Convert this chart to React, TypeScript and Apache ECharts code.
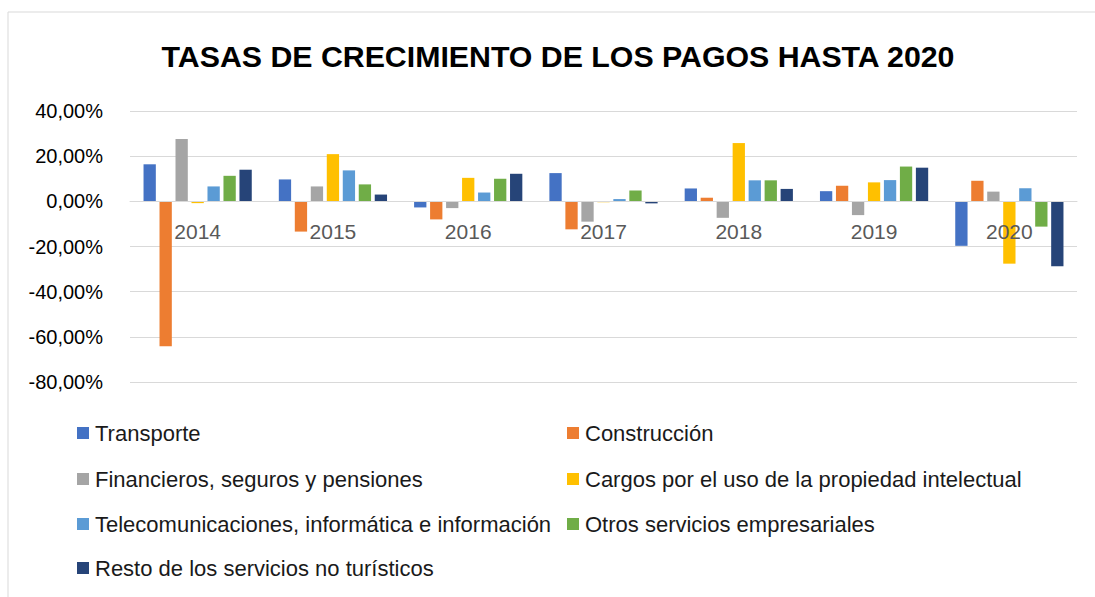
import React, { useEffect, useRef } from "react";
import * as echarts from "echarts";

const years = ["2014", "2015", "2016", "2017", "2018", "2019", "2020"];
const seriesNames = [
  "Transporte",
  "Construcción",
  "Financieros, seguros y pensiones",
  "Cargos por el uso de la propiedad intelectual",
  "Telecomunicaciones, informática e información",
  "Otros servicios empresariales",
  "Resto de los servicios no turísticos",
];
const colors = ["#4472C4", "#ED7D31", "#A5A5A5", "#FFC000", "#5B9BD5", "#70AD47", "#264478"];

const transporte = [16.4, 9.7, -2.7, 12.5, 5.7, 4.5, -19.7];
const construccion = [-64.2, -13.4, -8.0, -12.4, 1.6, 6.9, 9.1];
const financieros = [27.6, 6.6, -3.0, -9.0, -7.3, -6.1, 4.3];
const cargos = [-0.8, 20.9, 10.4, -0.4, 25.8, 8.4, -27.6];
const telecom = [6.6, 13.7, 3.9, 1.0, 9.3, 9.4, 5.8];
const otros = [11.3, 7.5, 10.0, 4.8, 9.3, 15.4, -11.2];
const resto = [14.0, 3.0, 12.2, -0.9, 5.5, 14.9, -28.7];
const seriesValues = [transporte, construccion, financieros, cargos, telecom, otros, resto];

const yTicks = { min: -80, max: 40, interval: 20 };

const legendPos = [
  { left: 77, cy: 434 },
  { left: 567, cy: 434 },
  { left: 77, cy: 480 },
  { left: 567, cy: 480 },
  { left: 77, cy: 525 },
  { left: 567, cy: 525 },
  { left: 77, cy: 569 },
];

const GRID = { left: 130, right: 18, top: 111, bottom: 215 };
const H = 597;

export default function App() {
  const ref = useRef<HTMLDivElement>(null);
  useEffect(() => {
    if (!ref.current) return;
    const chart = echarts.init(ref.current, null, { renderer: "svg" });
    const font = "'Liberation Sans', Arial, sans-serif";
    const plotH = H - GRID.top - GRID.bottom;
    // distance from the bottom of the plot up to the zero line
    const zeroOffset = (plotH * (0 - yTicks.min)) / (yTicks.max - yTicks.min);
    chart.setOption({
      animation: false,
      backgroundColor: "#ffffff",
      textStyle: { fontFamily: font },
      graphic: [
        {
          type: "rect",
          shape: { x: 8, y: 12, width: 1100, height: 600 },
          style: { fill: "none", stroke: "#d9d9d9", lineWidth: 1 },
          silent: true,
        },
        {
          type: "text",
          x: 558,
          y: 56,
          style: {
            text: "TASAS DE CRECIMIENTO DE LOS PAGOS HASTA 2020",
            fontFamily: font,
            fontWeight: "bold",
            fontSize: 30.3,
            fill: "#000000",
            align: "center",
            verticalAlign: "middle",
          },
        },
      ],
      legend: seriesNames.map((n, i) => ({
        data: [n],
        left: legendPos[i].left,
        top: legendPos[i].cy - 12,
        itemWidth: 12,
        itemHeight: 12,
        icon: "rect",
        padding: 0,
        textStyle: { fontFamily: font, fontSize: 22, color: "#1a1a1a", padding: [0, 0, 0, 1] },
      })),
      grid: { ...GRID, containLabel: false },
      xAxis: {
        type: "category",
        data: years,
        offset: -zeroOffset,
        axisLine: { onZero: false, lineStyle: { color: "#d9d9d9", width: 1 } },
        axisTick: { show: false },
        axisLabel: { color: "#595959", fontSize: 21, margin: 20, fontFamily: font },
        z: 10,
      },
      yAxis: {
        type: "value",
        min: yTicks.min,
        max: yTicks.max,
        interval: yTicks.interval,
        axisLine: { show: false },
        axisTick: { show: false },
        splitLine: { lineStyle: { color: "#d9d9d9", width: 1 } },
        axisLabel: {
          color: "#000000",
          fontSize: 20,
          margin: 27,
          fontFamily: font,
          formatter: (v: number) => v.toFixed(2).replace(".", ",") + "%",
        },
      },
      series: seriesNames.map((n, i) => ({
        name: n,
        type: "bar",
        data: seriesValues[i],
        barGap: "30%",
        barCategoryGap: "20%",
        itemStyle: { color: colors[i] },
      })),
    });
    return () => chart.dispose();
  }, []);
  return <div ref={ref} style={{ width: 1095, height: 597, position: "absolute", left: 0, top: 0 }} />;
}
